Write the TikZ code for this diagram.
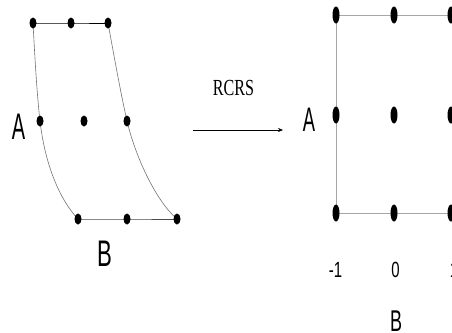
\documentclass[tikz,border=0pt]{standalone}
\usepackage{fontspec}
\setmainfont{Liberation Serif}
\newfontfamily\lbl{Liberation Sans}
\usetikzlibrary{shapes.geometric,arrows.meta}
\begin{document}
\begin{tikzpicture}[x=1pt,y=-1pt,
  sdot/.style={ellipse,fill=black,inner sep=0pt,minimum width=7pt,minimum height=11pt},
  bdot/.style={ellipse,fill=black,inner sep=0pt,minimum width=7pt,minimum height=17pt},
  bigA/.style={font=\lbl\fontsize{37}{37}\selectfont,xscale=0.54,transform shape,inner sep=0pt},
  bigB/.style={font=\lbl\fontsize{37}{37}\selectfont,xscale=0.6,transform shape,inner sep=0pt},
  tick/.style={font=\lbl\fontsize{22}{22}\selectfont,xscale=0.68,transform shape,inner sep=0pt},
  curve/.style={draw=black!55,line width=0.6pt},
  gline/.style={draw=black!35,line width=0.9pt}]
\useasboundingbox (0,0) rectangle (452,332);
\clip (0,0) rectangle (452,332);
% left shape points
\coordinate (t1) at (33,23);
\coordinate (t2) at (71,23);
\coordinate (t3) at (108,23);
\coordinate (m1) at (40,121);
\coordinate (m2) at (84,121);
\coordinate (m3) at (127,121);
\coordinate (b1) at (78,219);
\coordinate (b2) at (127,219);
\coordinate (b3) at (177,219);
\draw[black,line width=0.9pt] (t1) -- (t2) -- (t3);
\draw[black!70,line width=0.9pt] (b1) -- (b2) -- (b3);
\draw[curve] (t1) .. controls (35,60) and (37,95) .. (m1)
  .. controls (45,165) and (60,200) .. (b1);
\draw[curve] (t3) .. controls (113,50) and (120,90) .. (m3)
  .. controls (135,155) and (155,200) .. (b3);
\foreach \p in {t1,t2,t3,m1,m2,m3,b1,b2,b3} \node[sdot] at (\p) {};
\node[bigA] (la) at (18.5,127) {A};
\node[bigB] (lb) at (104.5,254) {B};
% arrow
\coordinate (a0) at (193,130);
\coordinate (a1) at (283,130);
\draw[-{Stealth[length=5pt,width=4pt]},line width=0.6pt] (a0) -- (a1);
\node[font=\fontsize{23}{23}\selectfont,xscale=0.7,transform shape,inner sep=0pt] (rcrs) at (233.5,87.5) {RCRS};
% right grid
\coordinate (r11) at (336,15);
\coordinate (r12) at (394,15);
\coordinate (r13) at (451,15);
\coordinate (r21) at (336,115);
\coordinate (r22) at (394,115);
\coordinate (r23) at (451,115);
\coordinate (r31) at (336,213);
\coordinate (r32) at (394,213);
\coordinate (r33) at (451,213);
\draw[gline] (r13) -- (r11) -- (r31) -- (r33);
\foreach \p in {r11,r12,r13,r21,r22,r23,r31,r32,r33} \node[bdot] at (\p) {};
\node[bigA,font=\lbl\fontsize{34}{34}\selectfont] (ra) at (309,120) {A};
\node[tick] (tm1) at (335.5,269.5) {-1};
\node[tick] (t0) at (395.5,269.5) {0};
\node[tick] (tp1) at (454,269.5) {1};
\node[bigB,font=\lbl\fontsize{30}{30}\selectfont] (rb) at (396,321) {B};
\end{tikzpicture}
\end{document}
